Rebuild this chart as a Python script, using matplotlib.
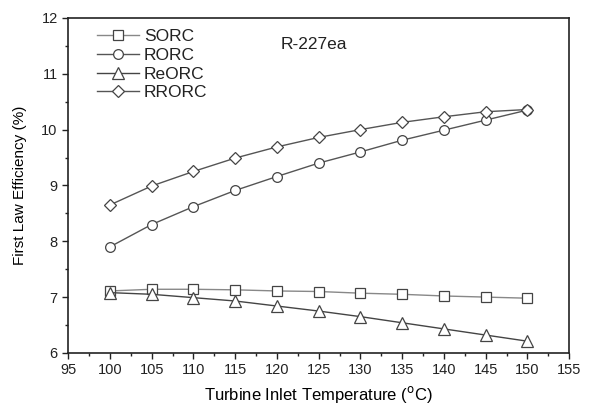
import matplotlib
matplotlib.use("Agg")
import matplotlib.pyplot as plt
from matplotlib.ticker import MultipleLocator

plt.rcParams.update({
    "font.family": ["Liberation Sans", "DejaVu Sans"],
    "text.color": "#222222",
    "axes.edgecolor": "#222222",
    "xtick.color": "#222222",
    "ytick.color": "#222222",
})

# Turbine inlet temperature (°C)
TIT = [100, 105, 110, 115, 120, 125, 130, 135, 140, 145, 150]
SORC = [7.11, 7.14, 7.14, 7.13, 7.11, 7.10, 7.07, 7.05, 7.02, 7.00, 6.98]
RORC = [7.90, 8.30, 8.62, 8.91, 9.16, 9.40, 9.60, 9.81, 9.99, 10.17, 10.35]
REORC = [7.08, 7.05, 6.99, 6.93, 6.84, 6.75, 6.65, 6.54, 6.43, 6.32, 6.21]
RRORC = [8.65, 8.99, 9.25, 9.49, 9.69, 9.86, 10.00, 10.13, 10.23, 10.32, 10.36]

SERIES = [("SORC", SORC, "s", "#888888"),
          ("RORC", RORC, "o", "#555555"),
          ("ReORC", REORC, "^", "#444444"),
          ("RRORC", RRORC, "D", "#555555")]
MSIZE = {"s": 6.5, "o": 7, "^": 8, "D": 6.5}

fig = plt.figure(figsize=(6.14, 4.08), dpi=100)
ax = fig.add_axes([0.111, 0.135, 0.816, 0.821])

for name, ys, mk, col in SERIES:
    ax.plot(TIT, ys, color=col, linewidth=1.0, marker=mk,
            markersize=MSIZE[mk], markerfacecolor="white",
            markeredgecolor="#444444", markeredgewidth=0.9, label=name)

ax.set_xlim(95, 155)
ax.set_ylim(6, 12)
ax.xaxis.set_major_locator(MultipleLocator(5))
ax.xaxis.set_minor_locator(MultipleLocator(2.5))
ax.yaxis.set_major_locator(MultipleLocator(1))
ax.yaxis.set_minor_locator(MultipleLocator(0.5))
ax.tick_params(which="both", direction="out", labelsize=10.5)
ax.tick_params(which="major", length=4, width=1)
ax.tick_params(which="minor", length=2.5, width=1)
for sp in ax.spines.values():
    sp.set_linewidth(1.2)

ax.set_xlabel("Turbine Inlet Temperature ($^{\\rm o}$C)", fontsize=12, labelpad=5)
ax.set_ylabel("First Law Efficiency (%)", fontsize=11, labelpad=10)
ax.text(0.49, 0.92, "R-227ea", transform=ax.transAxes, fontsize=12.5,
        ha="center", va="center")

ax.legend(loc="upper left", bbox_to_anchor=(0.035, 1.0), frameon=False,
          fontsize=12.5, handlelength=2.4, handletextpad=0.3, labelspacing=0.2,
          borderaxespad=0.25)

fig.savefig("out.png", dpi=100)
